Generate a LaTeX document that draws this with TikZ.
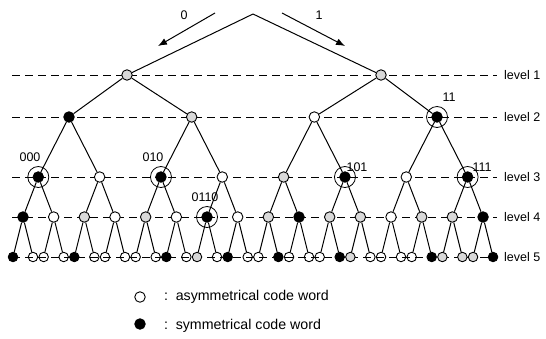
\documentclass[tikz,border=0pt]{standalone}
\usepackage{fontspec}
\setmainfont{Liberation Sans}
\usetikzlibrary{arrows.meta}
\begin{document}
\begin{tikzpicture}[x=1pt,y=-1pt,
  lvl/.style={draw,line width=0.9pt,dash pattern=on 8pt off 5pt},
  edge/.style={draw,line width=1pt},
  arr/.style={draw,line width=1pt,-{Latex[length=9pt,width=7pt]}},
  dot/.style={circle,draw,line width=0.9pt,inner sep=0pt,minimum size=10.5pt},
  nw/.style={dot,fill=white},
  ng/.style={dot,fill=gray!30},
  nb/.style={dot,fill=black},
  leaf/.style={circle,draw,line width=0.9pt,inner sep=0pt,minimum size=9.5pt},
  lw/.style={leaf},
  lg/.style={leaf,fill=gray!30},
  lb/.style={leaf,fill=black},
  ring/.style={circle,draw,line width=0.8pt,inner sep=0pt,minimum size=21pt},
  lab/.style={font=\fontsize{12.5}{14}\selectfont,inner sep=0pt},
  leg/.style={font=\fontsize{14.2}{16}\selectfont,inner sep=0pt,anchor=west}]
\useasboundingbox (0,0) rectangle (546,338);

% dashed level guides and their labels
\foreach \y/\k in {75/1,117/2,177/3,217/4,257/5}{
  \draw[lvl] (12,\y) -- (497,\y);
  \node[lab,anchor=west] (lev\k) at (504,\y) {level \k};
}

% top of the tree and direction arrows
\coordinate (root) at (253,14);
\coordinate (a0s) at (215,13);
\coordinate (a0e) at (158,46);
\coordinate (a1s) at (282,13);
\coordinate (a1e) at (345,46);
\draw[arr] (a0s) -- (a0e);
\draw[arr] (a1s) -- (a1e);
\node[lab] (t0) at (184,15) {0};
\node[lab] (t1) at (319,15) {1};

% level 1
\node[ng] (l1-0) at (127,75) {};
\node[ng] (l1-1) at (381,75) {};

% level 2
\foreach \c [count=\i from 0] in {nb,ng,nw,nb}
  \node[\c] (l2-\i) at ({69+122.67*\i},117) {};
% level 3
\foreach \c [count=\i from 0] in {nb,nw,nb,nw,ng,nb,nw,nb}
  \node[\c] (l3-\i) at ({38.3+61.33*\i},177) {};
% level 4
\foreach \c [count=\i from 0] in {nb,nw,ng,nw,ng,nw,nb,nw,ng,nb,ng,ng,nw,ng,ng,nb}
  \node[\c] (l4-\i) at ({23+30.67*\i},217) {};
% level 5
\foreach \c [count=\i from 0] in {lb,lw,lw,lw,lb,lw,lw,lw,lw,lw,lb,lw,lg,lw,lb,lw,lw,lb,lw,lw,lw,lb,lg,lw,lw,lw,lw,lb,lg,lg,lg,lb}{
  \pgfmathtruncatemacro{\p}{int(\i/2)}
  \pgfmathsetmacro{\s}{ifthenelse(mod(\i,2)==0,-10,10)}
  \node[\c] (l5-\i) at ({23+30.67*\p+\s},257) {};
}

% branches
\draw[edge] (root) -- (l1-0);
\draw[edge] (root) -- (l1-1);
\draw[edge] (l1-0) -- (l2-0);
\draw[edge] (l1-0) -- (l2-1);
\draw[edge] (l1-1) -- (l2-2);
\draw[edge] (l1-1) -- (l2-3);
\foreach \i in {0,...,3}{
  \pgfmathtruncatemacro{\a}{2*\i}\pgfmathtruncatemacro{\b}{2*\i+1}
  \draw[edge] (l2-\i) -- (l3-\a);
  \draw[edge] (l2-\i) -- (l3-\b);
}
\foreach \i in {0,...,7}{
  \pgfmathtruncatemacro{\a}{2*\i}\pgfmathtruncatemacro{\b}{2*\i+1}
  \draw[edge] (l3-\i) -- (l4-\a);
  \draw[edge] (l3-\i) -- (l4-\b);
}
\foreach \i in {0,...,15}{
  \pgfmathtruncatemacro{\a}{2*\i}\pgfmathtruncatemacro{\b}{2*\i+1}
  \draw[edge] (l4-\i) -- (l5-\a);
  \draw[edge] (l4-\i) -- (l5-\b);
}

% marked code words
\node[ring] (m11) at (l2-3) {};
\node[ring] (m000) at (l3-0) {};
\node[ring] (m010) at (l3-2) {};
\node[ring] (m101) at (l3-5) {};
\node[ring] (m111) at (l3-7) {};
\node[ring] (m0110) at (l4-6) {};
\node[lab] (c11) at (449,97) {11};
\node[lab] (c000) at (30,157) {000};
\node[lab] (c010) at (153,157) {010};
\node[lab] (c101) at (357,167) {101};
\node[lab] (c111) at (482,167) {111};
\node[lab] (c0110) at (205,197) {0110};

% legend
\node[nw] (k1) at (140,297) {};
\node[nb] (k2) at (140,324) {};
\node[leg] (k1t) at (164,297) {:\, asymmetrical code word};
\node[leg] (k2t) at (164,326) {:\, symmetrical code word};
\end{tikzpicture}
\end{document}
